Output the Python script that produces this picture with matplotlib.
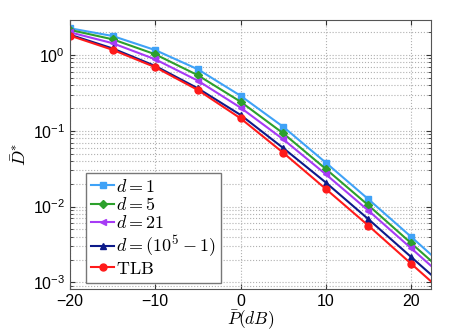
import numpy as np
import matplotlib
matplotlib.use("Agg")
import matplotlib.pyplot as plt

plt.rcParams["font.family"] = ["Liberation Sans", "DejaVu Sans"]
plt.rcParams["mathtext.fontset"] = "cm"

# ============================================================
# DADOS
# ============================================================

P_dB = [-20, -15, -10, -5, 0, 5, 10, 15, 20, 25]

d1 = [2.25, 1.78, 1.16, 0.647, 0.29, 0.113, 0.038, 0.0125, 0.0040, 0.00126]
d5 = [2.14, 1.61, 1.02, 0.54, 0.242, 0.0927, 0.0314, 0.0104, 0.0033, 0.00105]
d21 = [1.99, 1.43, 0.877, 0.458, 0.202, 0.0773, 0.0267, 0.00885, 0.00283, 0.00090]
dinf = [1.85, 1.22, 0.716, 0.363, 0.162, 0.0593, 0.0208, 0.00682, 0.00217, 0.00069]
tlb = [1.80, 1.17, 0.69, 0.345, 0.146, 0.0514, 0.0171, 0.00561, 0.00177, 0.00056]

series = [
    (d1, "#3fa2f7", "s", r"$d=1$"),
    (d5, "#2ca02c", "D", r"$d=5$"),
    (d21, "#a63bf5", "<", r"$d=21$"),
    (dinf, "#0d1a8a", "^", r"$d=(10^5-1)$"),
    (tlb, "#ff1a1a", "o", r"$\mathrm{TLB}$"),
]

# ============================================================
# GRAFICO
# ============================================================

fig = plt.figure(figsize=(4.73, 3.32), dpi=100)
ax = fig.add_axes([0.148, 0.1295, 0.7626, 0.8105])

for y, cor, mk, rot in series:
    ms = 4 if mk == "D" else 5
    ax.plot(P_dB, y, color=cor, marker=mk, markersize=ms, linewidth=1.5,
            label=rot)

ax.set_yscale("log")
ax.set_xlim(-20, 22.3)
ax.set_ylim(8.2e-4, 2.9)
ax.set_xticks([-20, -10, 0, 10, 20])

ax.grid(True, which="major", linestyle=":", color="#b0b0b0", linewidth=0.8)
ax.grid(True, which="minor", axis="y", linestyle=":", color="#b0b0b0",
        linewidth=0.8)

ax.tick_params(which="both", direction="in", top=True, right=True,
               labelsize=11.5, colors="#333333", labelcolor="black")
for s in ax.spines.values():
    s.set_color("#555555")

ax.set_xlabel(r"$\bar{P}(dB)$", fontsize=12.5, labelpad=0)
ax.set_ylabel(r"$\bar{D}^{*}$", fontsize=13)
ax.yaxis.set_label_coords(-0.111, 0.5)

leg = ax.legend(loc="lower left", bbox_to_anchor=(0.044, 0.022),
                borderaxespad=0, fontsize=13, handlelength=1.25,
                handletextpad=0.1, labelspacing=0.08, borderpad=0.3,
                fancybox=False, framealpha=1)
leg.get_frame().set_edgecolor("#777777")
leg.get_frame().set_linewidth(1.0)

fig.savefig("out.png", dpi=100)
